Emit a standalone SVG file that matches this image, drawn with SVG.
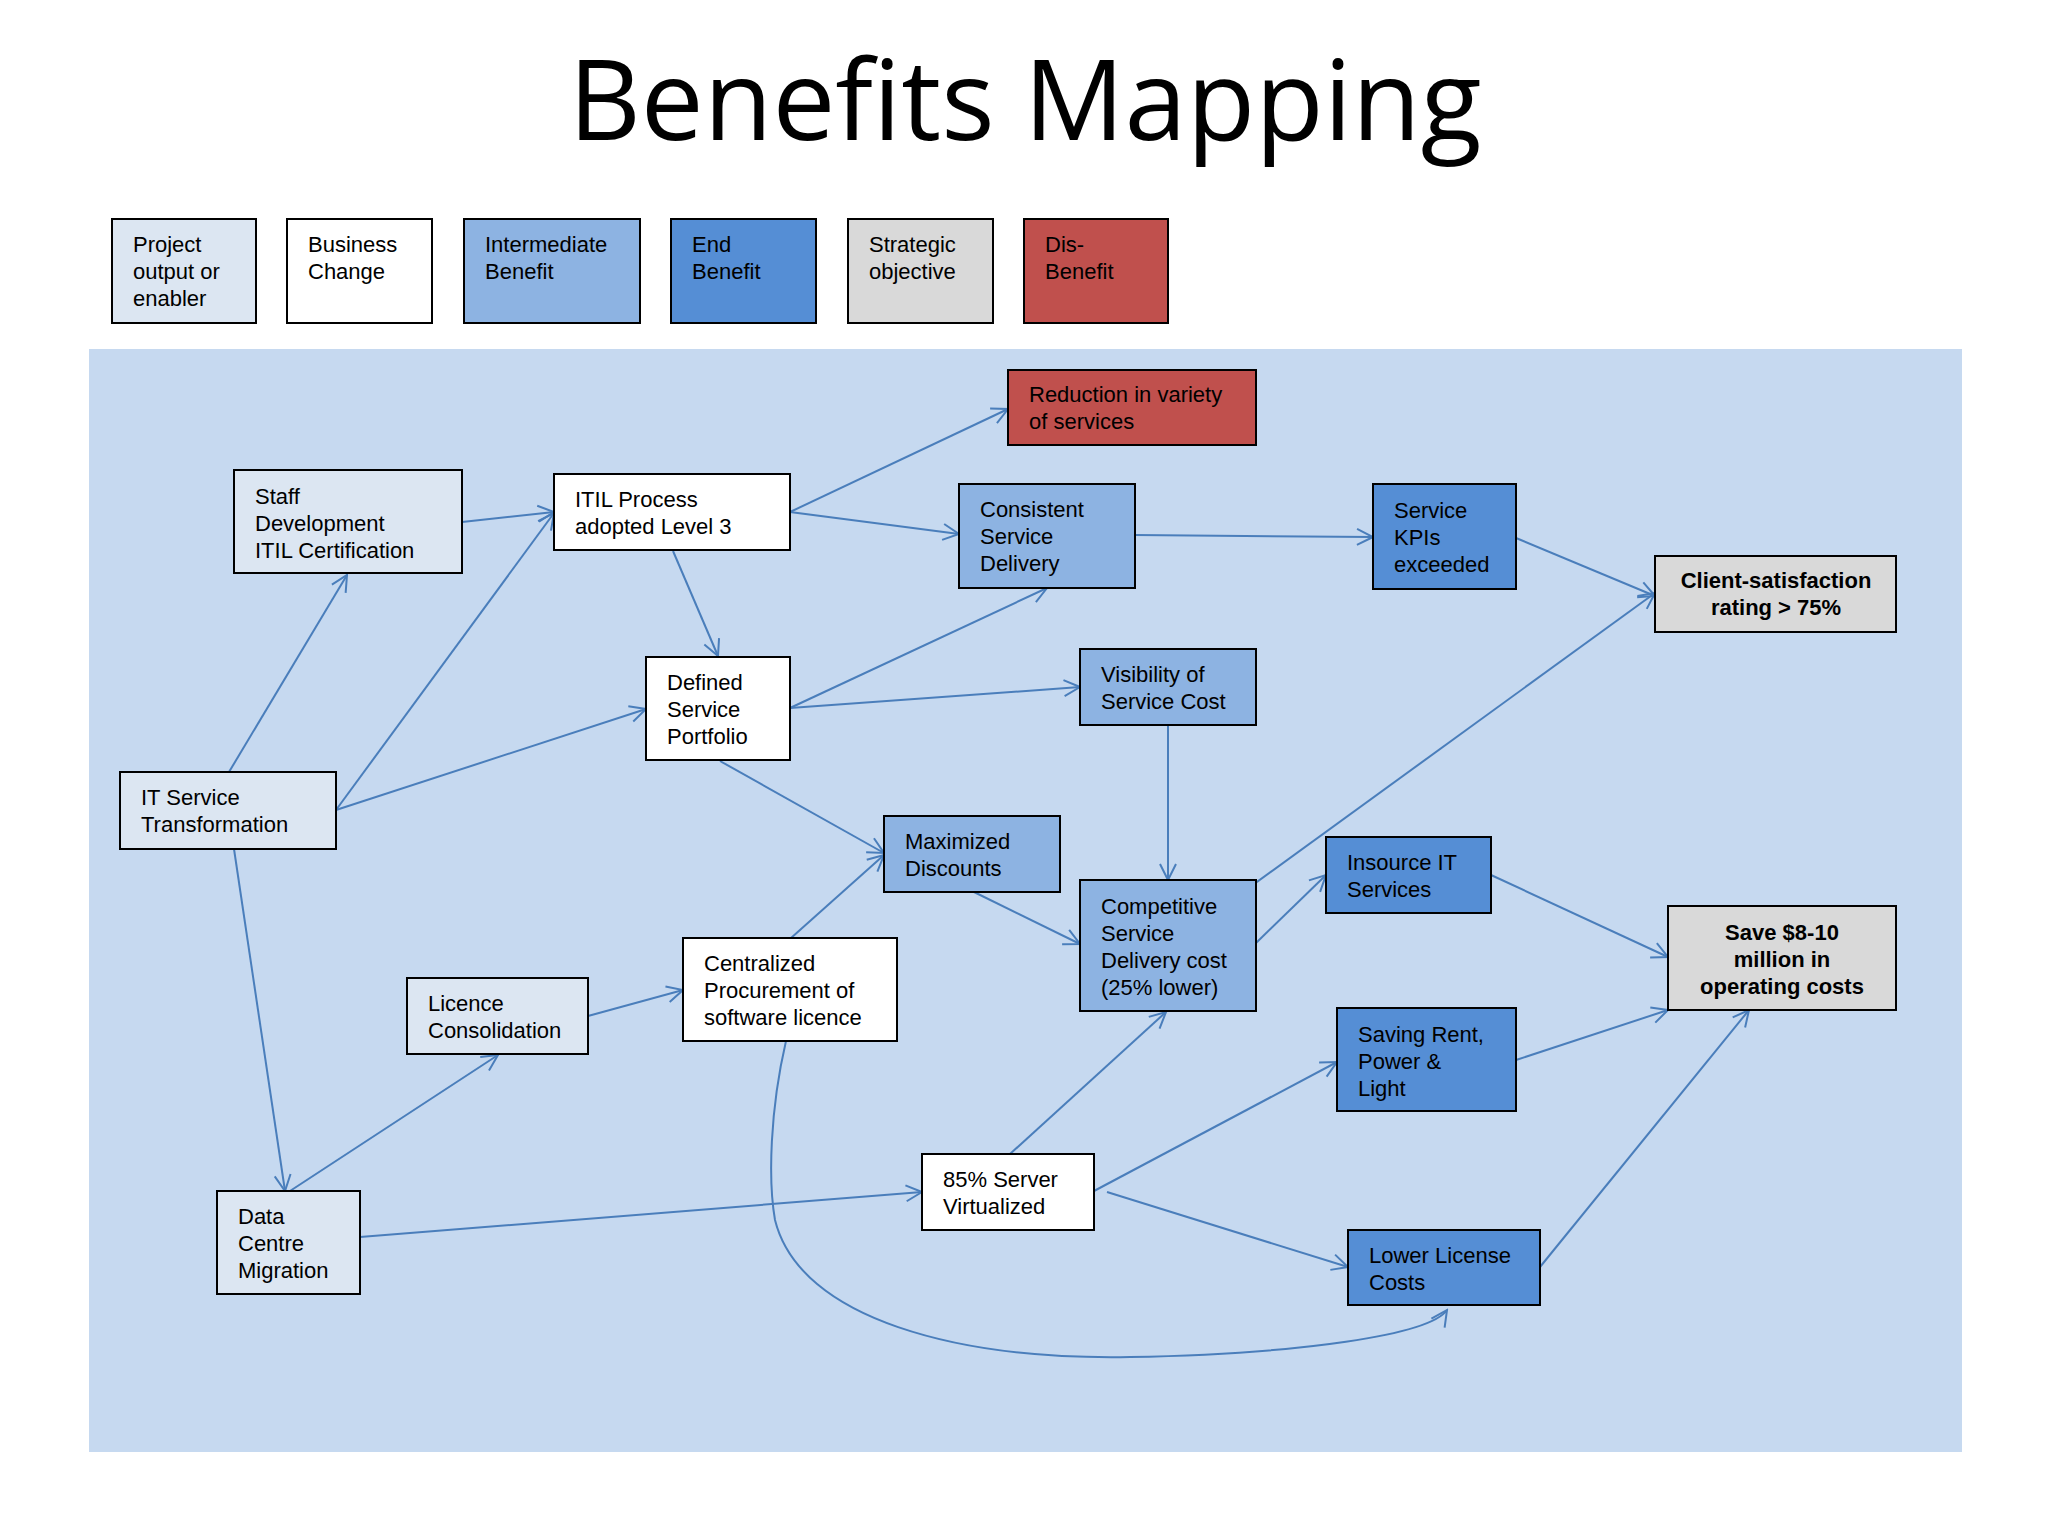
<svg xmlns="http://www.w3.org/2000/svg" width="2048" height="1536" viewBox="0 0 2048 1536">
<style>
.b{stroke:#000;stroke-width:2}
.pe{fill:#dce6f2}.bc{fill:#fff}.ib{fill:#8db3e2}.eb{fill:#558ed5}.so{fill:#d9d9d9}.db{fill:#c0504d}
text{font-family:"Liberation Sans",Arial,sans-serif;font-size:22px;fill:#000}
.bold{font-weight:bold;text-anchor:middle}
.c path,.c line{stroke:#4a7ebb;stroke-width:2;fill:none;marker-end:url(#a)}
</style>
<defs>
<marker id="a" markerUnits="userSpaceOnUse" markerWidth="20" markerHeight="20" viewBox="0 0 20 20" refX="18" refY="10" orient="auto">
<path d="M2,2 L18,10 L2,18" fill="none" stroke="#4a7ebb" stroke-width="2"/>
</marker>
</defs>
<rect width="2048" height="1536" fill="#fff"/>
<text x="1025" y="140" style="font-family:'Open Sans','Noto Sans',sans-serif;font-size:112px;text-anchor:middle">Benefits Mapping</text>
<g id="legend">
<rect class="b pe" x="112" y="219" width="144" height="104"/><text x="133" y="252">Project<tspan x="133" dy="27">output or</tspan><tspan x="133" dy="27">enabler</tspan></text>
<rect class="b bc" x="287" y="219" width="145" height="104"/><text x="308" y="252">Business<tspan x="308" dy="27">Change</tspan></text>
<rect class="b ib" x="464" y="219" width="176" height="104"/><text x="485" y="252">Intermediate<tspan x="485" dy="27">Benefit</tspan></text>
<rect class="b eb" x="671" y="219" width="145" height="104"/><text x="692" y="252">End<tspan x="692" dy="27">Benefit</tspan></text>
<rect class="b so" x="848" y="219" width="145" height="104"/><text x="869" y="252">Strategic<tspan x="869" dy="27">objective</tspan></text>
<rect class="b db" x="1024" y="219" width="144" height="104"/><text x="1045" y="252">Dis-<tspan x="1045" dy="27">Benefit</tspan></text>
</g>
<rect x="89" y="349" width="1873" height="1103" fill="#c6d9f0"/>
<g class="c" id="connectors">
<line x1="462" y1="522" x2="554" y2="512"/>
<line x1="790" y1="512" x2="1008" y2="409"/>
<line x1="790" y1="512" x2="959" y2="534"/>
<line x1="673" y1="551" x2="718" y2="656"/>
<line x1="1135" y1="535" x2="1373" y2="537"/>
<line x1="1516" y1="538" x2="1655" y2="596"/>
<line x1="790" y1="708" x2="1047" y2="588"/>
<line x1="790" y1="708" x2="1080" y2="687"/>
<line x1="229" y1="772" x2="347" y2="575"/>
<line x1="336" y1="810" x2="554" y2="513"/>
<line x1="336" y1="810" x2="646" y2="709"/>
<line x1="234" y1="849" x2="285" y2="1191"/>
<line x1="720" y1="761" x2="884" y2="853"/>
<line x1="1168" y1="725" x2="1168" y2="880"/>
<line x1="974" y1="892" x2="1080" y2="944"/>
<line x1="1221" y1="908" x2="1655" y2="593"/>
<line x1="1256" y1="943" x2="1326" y2="875"/>
<line x1="1491" y1="875" x2="1668" y2="957"/>
<line x1="791" y1="938" x2="884" y2="855"/>
<line x1="588" y1="1016" x2="683" y2="990"/>
<line x1="290" y1="1191" x2="498" y2="1055"/>
<line x1="360" y1="1237" x2="922" y2="1192"/>
<line x1="1010" y1="1154" x2="1166" y2="1012"/>
<line x1="1094" y1="1191" x2="1337" y2="1062"/>
<line x1="1107" y1="1192" x2="1348" y2="1267"/>
<line x1="1516" y1="1060" x2="1668" y2="1010"/>
<line x1="1540" y1="1267" x2="1749" y2="1010"/>
<path d="M786,1041 C770,1110 768,1180 775,1220 C800,1320 960,1360 1130,1357 C1300,1354 1430,1335 1447,1310"/>
</g>
<g id="reduction"><rect class="b db" x="1008" y="370" width="248" height="75"/><text x="1029" y="402">Reduction in variety<tspan x="1029" dy="27">of services</tspan></text></g>
<g id="staff"><rect class="b pe" x="234" y="470" width="228" height="103"/><text x="255" y="504">Staff<tspan x="255" dy="27">Development</tspan><tspan x="255" dy="27">ITIL Certification</tspan></text></g>
<g id="itil"><rect class="b bc" x="554" y="474" width="236" height="76"/><text x="575" y="507">ITIL Process<tspan x="575" dy="27">adopted  Level 3</tspan></text></g>
<g id="consistent"><rect class="b ib" x="959" y="484" width="176" height="104"/><text x="980" y="517">Consistent<tspan x="980" dy="27">Service</tspan><tspan x="980" dy="27">Delivery</tspan></text></g>
<g id="kpis"><rect class="b eb" x="1373" y="484" width="143" height="105"/><text x="1394" y="518">Service<tspan x="1394" dy="27">KPIs</tspan><tspan x="1394" dy="27">exceeded</tspan></text></g>
<g id="client"><rect class="b so" x="1655" y="556" width="241" height="76"/><text class="bold" x="1776" y="588">Client-satisfaction<tspan x="1776" dy="27">rating &gt; 75%</tspan></text></g>
<g id="defined"><rect class="b bc" x="646" y="657" width="144" height="103"/><text x="667" y="690">Defined<tspan x="667" dy="27">Service</tspan><tspan x="667" dy="27">Portfolio</tspan></text></g>
<g id="visibility"><rect class="b ib" x="1080" y="649" width="176" height="76"/><text x="1101" y="682">Visibility of<tspan x="1101" dy="27">Service Cost</tspan></text></g>
<g id="itservice"><rect class="b pe" x="120" y="772" width="216" height="77"/><text x="141" y="805">IT Service<tspan x="141" dy="27">Transformation</tspan></text></g>
<g id="maximized"><rect class="b ib" x="884" y="816" width="176" height="76"/><text x="905" y="849">Maximized<tspan x="905" dy="27">Discounts</tspan></text></g>
<g id="competitive"><rect class="b ib" x="1080" y="880" width="176" height="131"/><text x="1101" y="914">Competitive<tspan x="1101" dy="27">Service</tspan><tspan x="1101" dy="27">Delivery cost</tspan><tspan x="1101" dy="27">(25% lower)</tspan></text></g>
<g id="insource"><rect class="b eb" x="1326" y="837" width="165" height="76"/><text x="1347" y="870">Insource IT<tspan x="1347" dy="27">Services</tspan></text></g>
<g id="save"><rect class="b so" x="1668" y="906" width="228" height="104"/><text class="bold" x="1782" y="940">Save $8-10<tspan x="1782" dy="27">million in</tspan><tspan x="1782" dy="27">operating costs</tspan></text></g>
<g id="licence"><rect class="b pe" x="407" y="978" width="181" height="76"/><text x="428" y="1011">Licence<tspan x="428" dy="27">Consolidation</tspan></text></g>
<g id="centralized"><rect class="b bc" x="683" y="938" width="214" height="103"/><text x="704" y="971">Centralized<tspan x="704" dy="27">Procurement of</tspan><tspan x="704" dy="27">software licence</tspan></text></g>
<g id="saving"><rect class="b eb" x="1337" y="1008" width="179" height="103"/><text x="1358" y="1042">Saving Rent,<tspan x="1358" dy="27">Power &amp;</tspan><tspan x="1358" dy="27">Light</tspan></text></g>
<g id="server"><rect class="b bc" x="922" y="1154" width="172" height="76"/><text x="943" y="1187">85% Server<tspan x="943" dy="27">Virtualized</tspan></text></g>
<g id="datacentre"><rect class="b pe" x="217" y="1191" width="143" height="103"/><text x="238" y="1224">Data<tspan x="238" dy="27">Centre</tspan><tspan x="238" dy="27">Migration</tspan></text></g>
<g id="lower"><rect class="b eb" x="1348" y="1230" width="192" height="75"/><text x="1369" y="1263">Lower License<tspan x="1369" dy="27">Costs</tspan></text></g>
</svg>
